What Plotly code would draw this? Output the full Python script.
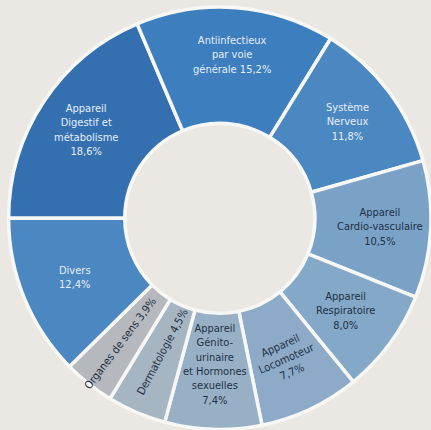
import math
import plotly.graph_objects as go

# ---- data ----
categories = [
    "Appareil<br>Digestif et<br>métabolisme",
    "Antiinfectieux<br>par voie<br>générale",
    "Système<br>Nerveux",
    "Appareil<br>Cardio-vasculaire",
    "Appareil<br>Respiratoire",
    "Appareil<br>Locomoteur",
    "Appareil<br>Génito-<br>urinaire<br>et Hormones<br>sexuelles",
    "Dermatologie",
    "Organes de sens",
    "Divers",
]
values = [18.6, 15.2, 11.8, 10.5, 8.0, 7.7, 7.4, 4.5, 3.9, 12.4]
value_labels = ["18,6%", "15,2%", "11,8%", "10,5%", "8,0%", "7,7%", "7,4%", "4,5%", "3,9%", "12,4%"]

# ---- styles ----
colors = ["#3470b0", "#3d7ebf", "#4b88c1", "#7aa2c7", "#84a8c8", "#8dabc8",
          "#98b0c6", "#a6b5c2", "#b5b9bd", "#4b87c0"]
text_colors = ["#e6eef7", "#e6eef7", "#e6eef7", "#1e3145", "#1e3145", "#1e3145",
               "#1e3145", "#1e3145", "#1e3145", "#e6eef7"]
sep = ["<br>", " ", "<br>", "<br>", "<br>", "<br>", "<br>", " ", " ", "<br>"]
label_radius = [160, 164, 160, 160, 156, 156, 146, 146, 160, 156]
text_angles = [0, 0, 0, 0, 0, -24, 0, -62, -53, 0]

W, H = 431, 430
dom_x = [0.02, 1.0]
dom_y = [0.0, 0.985]
BG = "#ebe8e4"

fig = go.Figure(go.Pie(
    values=values,
    labels=[c.replace("<br>", " ") for c in categories],
    sort=False,
    direction="clockwise",
    rotation=-90,
    hole=0.45,
    textinfo="none",
    hoverinfo="label+percent",
    marker=dict(colors=colors, line=dict(color="#f7f7f5", width=3.5)),
    domain=dict(x=dom_x, y=dom_y),
    showlegend=False,
))

# label positions computed from the slice mid-angles
cx = (dom_x[0] + dom_x[1]) / 2 * W
cy = (1 - (dom_y[0] + dom_y[1]) / 2) * H
total = sum(values)
cum = 0.0
annotations = []
for i, v in enumerate(values):
    mid = -90 + (cum + v / 2) / total * 360
    cum += v
    th = math.radians(mid)
    r = label_radius[i]
    px = cx + r * math.sin(th)
    py = cy - r * math.cos(th)
    if i == 1:
        txt = "Antiinfectieux<br>par voie<br>générale " + value_labels[i]
    else:
        txt = categories[i] + sep[i] + value_labels[i]
    annotations.append(dict(
        x=px / W, y=1 - py / H, xref="paper", yref="paper",
        text=txt, showarrow=False, textangle=text_angles[i],
        xanchor="center", yanchor="middle", align="center",
        font=dict(family="DejaVu Sans Condensed, Liberation Sans Narrow, Roboto, sans-serif",
                  size=11, color=text_colors[i]),
    ))

fig.update_layout(
    width=W, height=H,
    margin=dict(l=0, r=0, t=0, b=0),
    paper_bgcolor=BG, plot_bgcolor=BG,
    annotations=annotations,
)

fig.write_html("out.html")
